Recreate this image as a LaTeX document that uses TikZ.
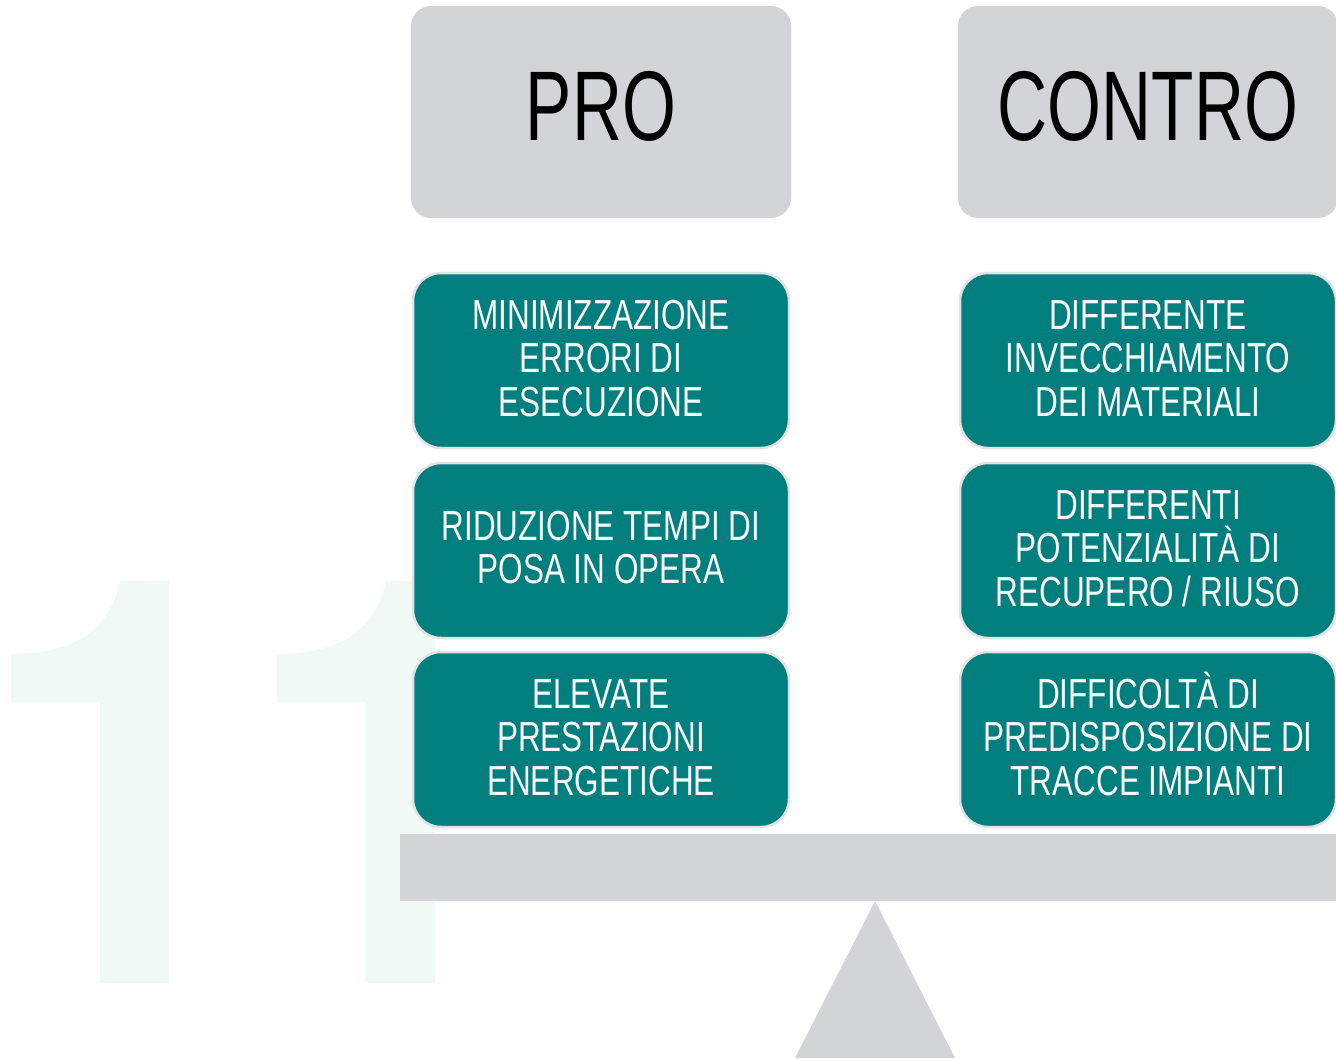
\documentclass[tikz,border=0pt]{standalone}
\usepackage{fontspec}
\newfontfamily\hdrfont[FakeStretch=0.70]{Liberation Sans}
\newfontfamily\bodyfont[FakeStretch=0.75]{Liberation Sans}
\definecolor{tealbg}{HTML}{007F7E}
\definecolor{greyb}{HTML}{D3D4D8}
\definecolor{edgec}{HTML}{E2E3E4}
\definecolor{mint}{HTML}{F0F9F6}
\begin{document}
\begin{tikzpicture}[x=1pt,y=-1pt,
  hdrbox/.style={fill=greyb, draw=none, rounded corners=20pt, minimum width=380pt, minimum height=212pt, inner sep=0pt},
  tealbox/.style={fill=tealbg, draw=edgec, line width=2.5pt, rounded corners=28pt, minimum width=376pt, minimum height=175pt, inner sep=0pt},
  hdrtxt/.style={font=\hdrfont\fontsize{99}{100}\selectfont, text=black, inner sep=0pt},
  bodytxt/.style={font=\bodyfont\fontsize{42}{43.5}\selectfont, text=white, align=center, inner sep=0pt},
  bigone/.style={fill=mint, draw=none}
]
\useasboundingbox (0,0) rectangle (1336,1058);
\clip (0,0) rectangle (1336,1058);
\fill[white] (0,0) rectangle (1336,1058);

% background "11"
\fill[bigone] (11,654) -- (11,702) -- (100,702) -- (100,983) -- (169,983) -- (169,581) -- (120,581)
  .. controls (108,640) and (60,654) .. (11,654) -- cycle;
\fill[bigone] (277,654) -- (277,702) -- (366,702) -- (366,983) -- (435,983) -- (435,581) -- (386,581)
  .. controls (374,640) and (326,654) .. (277,654) -- cycle;

% balance
\fill[greyb] (875,901) -- (955,1058) -- (795,1058) -- cycle;
\fill[greyb] (400,834) rectangle (1340,901);

% headers
\node[hdrbox] (pro) at (601,112) {};
\node[hdrbox] (contro) at (1148,112) {};
\node[hdrtxt] (protxt) at (601,106) {PRO};
\node[hdrtxt] (controtxt) at (1148,106) {CONTRO};

% pro boxes
\node[tealbox] (p1) at (601,360.5) {};
\node[tealbox] (p2) at (601,550.5) {};
\node[tealbox] (p3) at (601,739.5) {};
\node[bodytxt] (p1t) at (601,358.5) {MINIMIZZAZIONE\\ERRORI DI\\ESECUZIONE};
\node[bodytxt] (p2t) at (601,547.5) {RIDUZIONE TEMPI DI\\POSA IN OPERA};
\node[bodytxt] (p3t) at (601,737.5) {ELEVATE\\PRESTAZIONI\\ENERGETICHE};

% contro boxes
\node[tealbox] (c1) at (1148,360.5) {};
\node[tealbox] (c2) at (1148,550.5) {};
\node[tealbox] (c3) at (1148,739.5) {};
\node[bodytxt] (c1t) at (1148,358.5) {DIFFERENTE\\INVECCHIAMENTO\\DEI MATERIALI};
\node[bodytxt] (c2t) at (1148,548.5) {DIFFERENTI\\POTENZIALIT\smash{À} DI\\RECUPERO / RIUSO};
\node[bodytxt] (c3t) at (1148,737.5) {DIFFICOLT\smash{À} DI\\PREDISPOSIZIONE DI\\TRACCE IMPIANTI};
\end{tikzpicture}
\end{document}
